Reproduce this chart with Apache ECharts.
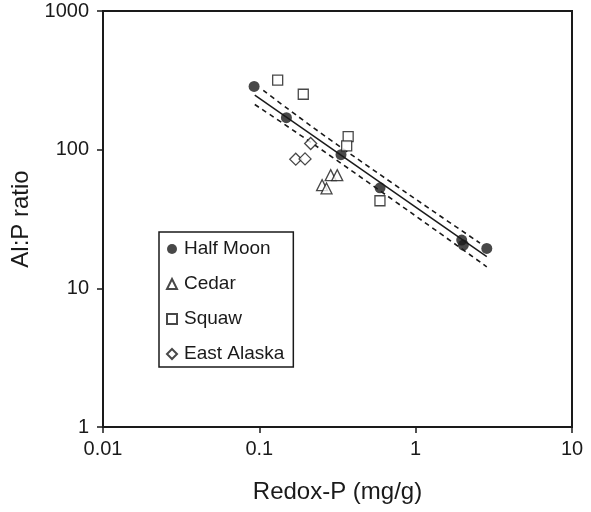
<!DOCTYPE html>
<html>
<head>
<meta charset="utf-8">
<script src="https://cdn.jsdelivr.net/npm/echarts@6/dist/echarts.min.js"></script>
<style>
  html, body { margin: 0; padding: 0; background: #fff; }
  #chart { width: 591px; height: 512px; }
</style>
</head>
<body>
<div id="chart"></div>
<script>
// Redox-P (mg/g) vs Al:P ratio, per lake
const halfMoonX = [0.0926, 0.149, 0.333, 0.592, 1.97, 2.02, 2.85];
const halfMoonY = [286, 170, 92.0, 53.1, 22.3, 20.5, 19.4];

const cedarX = [0.286, 0.315, 0.252, 0.269];
const cedarY = [65.5, 65.5, 55.5, 52.5];

const squawX = [0.131, 0.191, 0.370, 0.362, 0.591];
const squawY = [317, 251, 124, 106.5, 42.8];

const eastAlaskaX = [0.213, 0.171, 0.196];
const eastAlaskaY = [110.8, 85.4, 85.8];

// regression line and its confidence band
const fitX = [0.0935, 2.85];
const fitY = [247, 16.9];
const upperX = [0.106, 0.297, 2.58];
const upperY = [268, 113.8, 21.2];
const lowerX = [0.0935, 0.297, 2.85];
const lowerY = [211.7, 87.3, 14.3];

const xTicks = [0.01, 0.1, 1, 10];
const yTicks = [1, 10, 100, 1000];

const pairs = (xs, ys) => xs.map((x, i) => [x, ys[i]]);

const font = "'Liberation Sans', Arial, sans-serif";
const ink = "#1a1a1a";

const hollow = {
  color: "#fff",
  borderColor: ink,
  borderWidth: 1.3,
};

const chart = echarts.init(document.getElementById("chart"));
chart.setOption({
  animation: false,
  textStyle: { fontFamily: font, color: ink },
  grid: {
    left: 103,
    right: 19,
    top: 11,
    bottom: 85,
    show: true,
    borderColor: ink,
    borderWidth: 2,
  },
  legend: {
    orient: "vertical",
    left: 159,
    top: 232,
    padding: [7, 9, 3, 7],
    itemGap: 15,
    itemWidth: 10,
    itemHeight: 10,
    borderColor: ink,
    borderWidth: 1.5,
    backgroundColor: "#fff",
    textStyle: { fontFamily: font, fontSize: 19, lineHeight: 20, color: ink, padding: [0, 0, 0, 2] },
    data: ["Half Moon", "Cedar", "Squaw", "East Alaska"],
  },
  xAxis: {
    type: "log",
    logBase: 10,
    min: xTicks[0],
    max: xTicks[xTicks.length - 1],
    name: "Redox-P (mg/g)",
    nameLocation: "middle",
    nameGap: 53,
    nameTextStyle: { fontFamily: font, fontSize: 24, color: ink },
    axisLine: { lineStyle: { color: ink, width: 2 } },
    axisTick: { show: true, inside: false, length: 6, lineStyle: { color: ink, width: 1.5 } },
    minorTick: { show: false },
    splitLine: { show: false },
    axisLabel: {
      fontFamily: font,
      fontSize: 20,
      color: ink,
      margin: 12,
      formatter: (v) => String(Number(v.toPrecision(6))),
    },
  },
  yAxis: {
    type: "log",
    logBase: 10,
    min: yTicks[0],
    max: yTicks[yTicks.length - 1],
    name: "Al:P ratio",
    nameLocation: "middle",
    nameRotate: 90,
    nameGap: 58,
    nameTextStyle: { fontFamily: font, fontSize: 24, color: ink },
    axisLine: { lineStyle: { color: ink, width: 2 } },
    axisTick: { show: true, inside: false, length: 6, lineStyle: { color: ink, width: 1.5 } },
    minorTick: { show: false },
    splitLine: { show: false },
    axisLabel: {
      fontFamily: font,
      fontSize: 20,
      color: ink,
      margin: 14,
      formatter: (v) => String(Math.round(v)),
    },
  },
  series: [
    {
      name: "fit",
      type: "line",
      data: pairs(fitX, fitY),
      showSymbol: false,
      lineStyle: { color: ink, width: 1.5 },
      z: 1,
    },
    {
      name: "upper",
      type: "line",
      smooth: true,
      data: pairs(upperX, upperY),
      showSymbol: false,
      lineStyle: { color: ink, width: 1.6, type: [5, 4] },
      z: 1,
    },
    {
      name: "lower",
      type: "line",
      smooth: true,
      data: pairs(lowerX, lowerY),
      showSymbol: false,
      lineStyle: { color: ink, width: 1.6, type: [5, 4] },
      z: 1,
    },
    {
      name: "Half Moon",
      type: "scatter",
      symbol: "circle",
      symbolSize: 11,
      itemStyle: { color: ink },
      data: pairs(halfMoonX, halfMoonY),
      z: 3,
    },
    {
      name: "Cedar",
      type: "scatter",
      symbol: "triangle",
      symbolSize: 11,
      itemStyle: hollow,
      data: pairs(cedarX, cedarY),
      z: 3,
    },
    {
      name: "Squaw",
      type: "scatter",
      symbol: "rect",
      symbolSize: 10,
      itemStyle: hollow,
      data: pairs(squawX, squawY),
      z: 3,
    },
    {
      name: "East Alaska",
      type: "scatter",
      symbol: "diamond",
      symbolSize: 12,
      itemStyle: hollow,
      data: pairs(eastAlaskaX, eastAlaskaY),
      z: 3,
    },
  ],
});
</script>
</body>
</html>
